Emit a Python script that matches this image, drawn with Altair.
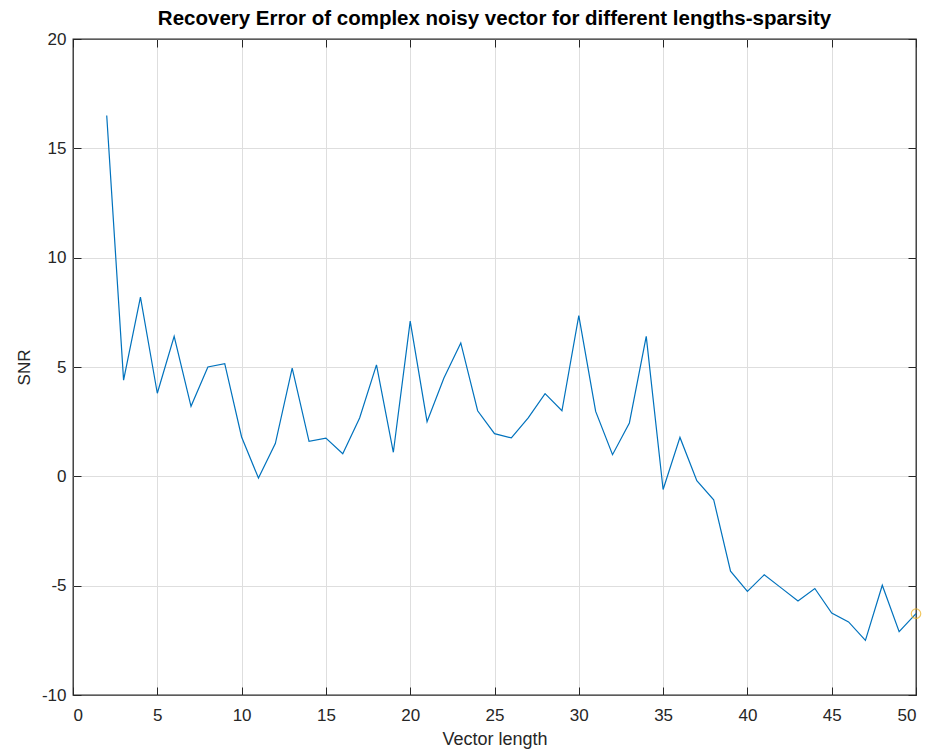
import altair as alt
import pandas as pd

lengths = list(range(2, 51))
snr = [16.5, 4.4, 8.2, 3.8, 6.4, 3.2, 5.0, 5.15, 1.8, -0.08,
       1.5, 4.95, 1.6, 1.75, 1.03, 2.67, 5.1, 1.1, 7.1, 2.5,
       4.5, 6.1, 3.0, 1.95, 1.76, 2.67, 3.78, 3.0, 7.35, 2.97,
       0.99, 2.44, 6.4, -0.6, 1.78, -0.2, -1.07, -4.34, -5.26, -4.5,
       -5.1, -5.7, -5.13, -6.25, -6.66, -7.5, -4.98, -7.1, -6.28]
marker_x = [50]
marker_y = [-6.28]
x_ticks = list(range(0, 51, 5))
y_ticks = list(range(-10, 21, 5))

df = pd.DataFrame({"len": lengths, "snr": snr})
dm = pd.DataFrame({"len": marker_x, "snr": marker_y})

FONT = "Liberation Sans"
TXT = "#262626"
TICK = 8
LBL = "datum.value < 0 ? '-' + abs(datum.value) : '' + datum.value"

xscale = alt.Scale(domain=[0, 50], nice=False)
yscale = alt.Scale(domain=[-10, 20], nice=False)

common = dict(labelFont=FONT, titleFont=FONT, labelFontSize=17,
              labelColor=TXT, titleColor=TXT, titleFontWeight="normal",
              tickColor=TXT, tickWidth=1, labelExpr=LBL)

# labelled axes with inward ticks
x_main = alt.Axis(orient="bottom", values=x_ticks, title="Vector length", grid=False,
                  domain=False, offset=-TICK, tickSize=TICK, labelPadding=12,
                  titlePadding=7, titleFontSize=18, **common)
y_main = alt.Axis(orient="left", values=y_ticks, title="SNR", grid=False,
                  domain=False, offset=-TICK, tickSize=TICK, labelPadding=7,
                  titlePadding=8, titleFontSize=17, **common)
# grid only (interior lines)
x_grid = alt.Axis(orient="bottom", values=x_ticks[1:-1], grid=True, gridColor="#dedede",
                  labels=False, ticks=False, domain=False, title=None)
y_grid = alt.Axis(orient="left", values=y_ticks[1:-1], grid=True, gridColor="#dedede",
                  labels=False, ticks=False, domain=False, title=None)
# inward ticks on top/right
x_top = alt.Axis(orient="top", values=x_ticks, grid=False, labels=False, domain=False,
                 offset=-TICK, tickSize=TICK, tickColor=TXT, title=None)
y_right = alt.Axis(orient="right", values=y_ticks, grid=False, labels=False, domain=False,
                   offset=-TICK, tickSize=TICK, tickColor=TXT, title=None)

grid_layer = alt.Chart(df).mark_line(strokeOpacity=0).encode(
    x=alt.X("len:Q", scale=xscale, axis=x_grid),
    y=alt.Y("snr:Q", scale=yscale, axis=y_grid),
)
line = alt.Chart(df).mark_line(color="#0072BD", strokeWidth=1.2).encode(
    x=alt.X("len:Q", scale=xscale, axis=x_main),
    y=alt.Y("snr:Q", scale=yscale, axis=y_main),
)
tick_layer = alt.Chart(df).mark_line(strokeOpacity=0).encode(
    x=alt.X("len:Q", scale=xscale, axis=x_top),
    y=alt.Y("snr:Q", scale=yscale, axis=y_right),
)
pt = alt.Chart(dm).mark_point(color="#EDB120", filled=False, size=90, strokeWidth=1.2).encode(
    x=alt.X("len:Q", scale=xscale, axis=None),
    y=alt.Y("snr:Q", scale=yscale, axis=None),
)

chart = alt.layer(grid_layer, line, tick_layer, pt).resolve_axis(
    x="independent", y="independent"
).properties(
    width=843, height=656,
    background="white",
    title=alt.Title("Recovery Error of complex noisy vector for different lengths-sparsity",
                    font=FONT, fontSize=20.5, fontWeight="bold", color="#000000", offset=1),
    autosize=alt.AutoSizeParams(type="none"),
    padding={"left": 73, "top": 39, "right": 13, "bottom": 56},
).configure_view(
    stroke=TXT, strokeWidth=1.3
)

chart.save("out.html", embed_options={"renderer": "svg", "actions": False})
